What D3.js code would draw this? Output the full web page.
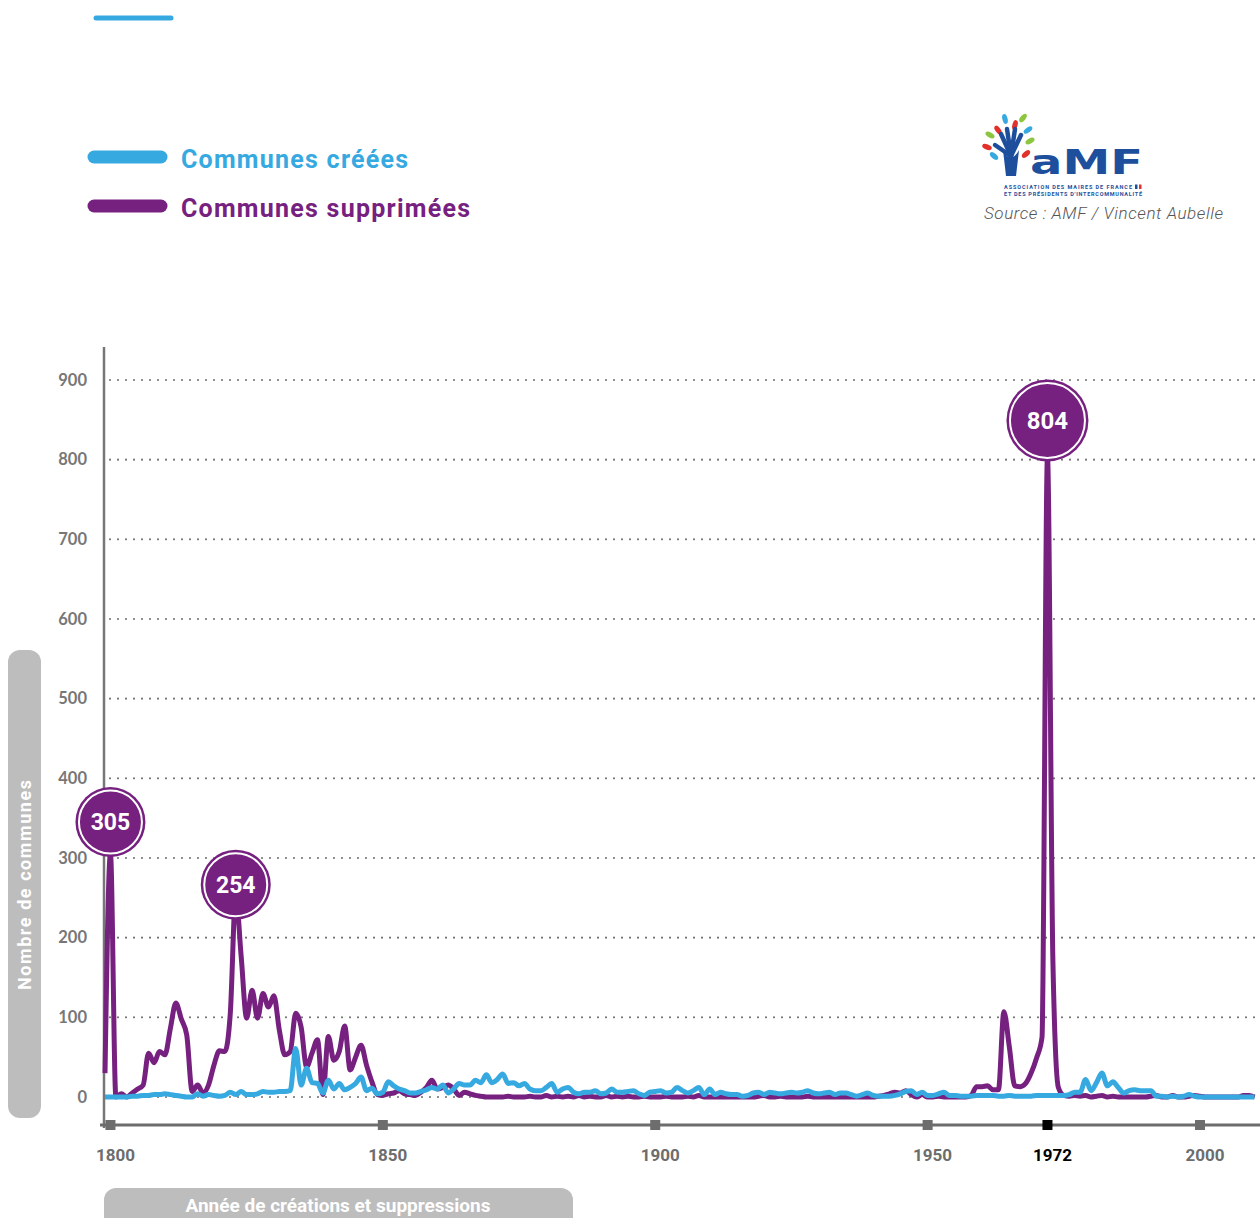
<!DOCTYPE html>
<html>
<head>
<meta charset="utf-8">
<script src="https://cdn.jsdelivr.net/npm/d3@7"></script>
<style>
  body { margin: 0; background: #fff; }
  svg { display: block; font-family: Roboto, "Noto Sans", sans-serif; }
</style>
</head>
<body>
<svg id="chart" width="1260" height="1218"></svg>
<script>
// yearly series, 1799 -> 2010
const firstYear = 1799;

const suppressed = [
  30, 305, 0, 4, 0, 5, 10, 15, 55, 43,        // 1799-1808
  57, 53, 86, 118, 98, 78, 7, 15, 5, 15,      // 1809-1818
  40, 58, 57, 105, 254, 176, 99, 134, 99, 130, // 1819-1828
  113, 127, 84, 53, 57, 105, 88, 38, 55, 72,  // 1829-1838
  3, 76, 46, 57, 89, 34, 50, 65, 40, 19,      // 1839-1848
  3, 2, 4, 5, 8, 4, 3, 2, 6, 12,              // 1849-1858
  21, 10, 12, 15, 10, 2, 6, 4, 2, 1,          // 1859-1868
  0, 0, 0, 0, 1, 0, 0, 0, 1, 0,               // 1869-1878
  0, 2, 0, 1, 0, 1, 0, 2, 0, 1,               // 1879-1888
  0, 0, 2, 0, 1, 0, 1, 0, 0, 1,               // 1889-1898
  0, 0, 0, 1, 0, 0, 0, 1, 0, 2,               // 1899-1908
  0, 0, 0, 0, 0, 0, 0, 0, 0, 0,               // 1909-1918
  1, 2, 0, 0, 1, 0, 0, 0, 0, 1,               // 1919-1928
  0, 0, 0, 0, 0, 0, 0, 0, 0, 0,               // 1929-1938
  0, 0, 1, 2, 4, 6, 5, 8, 3, 0,               // 1939-1948
  3, 0, 0, 1, 0, 0, 0, 0, 0, 2,               // 1949-1958
  13, 13, 14, 9, 9, 107, 63, 14, 13, 17,      // 1959-1968
  30, 49, 75, 804, 170, 12, 2, 1, 2, 1,       // 1969-1978
  2, 0, 1, 2, 0, 1, 0, 0, 0, 0,               // 1979-1988
  0, 0, 1, 2, 0, 0, 2, 0, 0, 1,               // 1989-1998
  2, 1, 0, 0, 0, 0, 0, 0, 0, 2,               // 1999-2008
  2, 0                                        // 2009-2010
];

const created = [
  0, 0, 0, 0, 0, 1, 1, 2, 2, 3,               // 1799-1808
  3, 4, 3, 2, 1, 0, 0, 4, 1, 3,               // 1809-1818
  2, 1, 2, 6, 3, 7, 3, 3, 4, 7,               // 1819-1828
  6, 6, 7, 7, 8, 61, 15, 36, 18, 17,          // 1829-1838
  5, 21, 10, 17, 9, 12, 17, 25, 8, 11,        // 1839-1848
  4, 6, 19, 14, 10, 8, 5, 5, 7, 9,            // 1849-1858
  12, 10, 15, 5, 10, 17, 15, 15, 21, 18,      // 1859-1868
  28, 18, 22, 29, 17, 18, 14, 17, 10, 8,      // 1869-1878
  8, 12, 17, 6, 10, 12, 6, 4, 6, 6,           // 1879-1888
  8, 4, 5, 10, 6, 6, 7, 8, 4, 2,              // 1889-1898
  6, 7, 8, 5, 6, 12, 8, 5, 8, 12,             // 1899-1908
  3, 10, 3, 6, 4, 3, 3, 1, 2, 5,              // 1909-1918
  6, 3, 6, 5, 4, 5, 6, 5, 6, 8,               // 1919-1928
  5, 4, 5, 6, 3, 5, 5, 3, 1, 3,               // 1929-1938
  5, 2, 1, 1, 1, 2, 4, 7, 8, 3,               // 1939-1948
  6, 2, 2, 4, 6, 2, 2, 1, 1, 1,               // 1949-1958
  2, 2, 2, 2, 1, 1, 2, 1, 1, 1,               // 1959-1968
  1, 2, 2, 2, 2, 2, 2, 3, 6, 6,               // 1969-1978
  22, 8, 18, 30, 14, 19, 12, 5, 8, 9,         // 1979-1988
  8, 8, 8, 1, 1, 0, 1, 0, 1, 3,               // 1989-1998
  1, 0, 0, 0, 0, 0, 0, 0, 0, 0,               // 1999-2008
  0, 0                                        // 2009-2010
];

const yTicks = [0, 100, 200, 300, 400, 500, 600, 700, 800, 900];
const xTicks = [1800, 1850, 1900, 1950, 1972, 2000];
const highlightYear = 1972;

const peaks = [
  { year: 1800, value: 305 },
  { year: 1823, value: 254 },
  { year: 1972, value: 804 }
];
// badge radius and how far it sits above the peak (px)
const badgeStyle = { 305: { r: 35, lift: 32 }, 254: { r: 35, lift: 10 }, 804: { r: 41, lift: 36 } };

const seriesNames = ["Communes créées", "Communes supprimées"];

const BLUE = "#36a9e1";
const PURPLE = "#76217f";
const GREY = "#777";
const AXIS = "#6d6d6d";

const svg = d3.select("#chart");

const x = d3.scaleLinear().domain([firstYear, 2000]).range([105, 1200]);
const y = d3.scaleLinear().domain([0, 900]).range([1097, 380]);

const toPoints = arr => arr.map((v, i) => ({ year: firstYear + i, value: v }));

// dotted grid
svg.append("g")
  .selectAll("line")
  .data(yTicks)
  .join("line")
  .attr("x1", 110).attr("x2", 1260)
  .attr("y1", d => y(d)).attr("y2", d => y(d))
  .attr("stroke", GREY)
  .attr("stroke-width", 2.2)
  .attr("stroke-linecap", "round")
  .attr("stroke-dasharray", "0,8");

// y labels
svg.append("g")
  .selectAll("text")
  .data(yTicks)
  .join("text")
  .attr("x", 87)
  .attr("y", d => y(d))
  .attr("dy", "0.35em")
  .attr("text-anchor", "end")
  .style("font-family", "Lato, Roboto, sans-serif")
  .style("font-weight", 700)
  .style("font-size", "16.5px")
  .attr("fill", GREY)
  .text(d => d);

// axis lines
svg.append("line")
  .attr("x1", 104).attr("x2", 104)
  .attr("y1", 347).attr("y2", 1128)
  .attr("stroke", GREY).attr("stroke-width", 2.5);

svg.append("line")
  .attr("x1", 100).attr("x2", 1260)
  .attr("y1", 1125).attr("y2", 1125)
  .attr("stroke", AXIS).attr("stroke-width", 3);

// tick squares + labels
const xt = svg.append("g");
xt.selectAll("rect")
  .data(xTicks)
  .join("rect")
  .attr("x", d => x(d) - 5)
  .attr("y", 1120)
  .attr("width", 10).attr("height", 10)
  .attr("fill", d => d === highlightYear ? "#000" : AXIS);

xt.selectAll("text")
  .data(xTicks)
  .join("text")
  .attr("x", d => x(d) + 5)
  .attr("y", 1161)
  .attr("text-anchor", "middle")
  .style("font-weight", 700)
  .style("font-size", "17px")
  .attr("fill", d => d === highlightYear ? "#000" : AXIS)
  .text(d => d);

// lines
const line = d3.line()
  .x(d => x(d.year))
  .y(d => y(d.value))
  .curve(d3.curveMonotoneX);

svg.append("path")
  .datum(toPoints(suppressed))
  .attr("d", line)
  .attr("fill", "none")
  .attr("stroke", PURPLE)
  .attr("stroke-width", 5)
  .attr("stroke-linejoin", "round");

svg.append("path")
  .datum(toPoints(created))
  .attr("d", line)
  .attr("fill", "none")
  .attr("stroke", BLUE)
  .attr("stroke-width", 5)
  .attr("stroke-linejoin", "round");

// peak badges
const badges = svg.append("g")
  .selectAll("g")
  .data(peaks)
  .join("g")
  .attr("transform", d => `translate(${x(d.year)},${y(d.value) - badgeStyle[d.value].lift})`);

badges.append("circle")
  .attr("r", d => badgeStyle[d.value].r)
  .attr("fill", PURPLE);
badges.append("circle")
  .attr("r", d => badgeStyle[d.value].r - 3.5)
  .attr("fill", "none")
  .attr("stroke", "#fff")
  .attr("stroke-width", 2);
badges.append("text")
  .attr("text-anchor", "middle")
  .attr("dy", "0.36em")
  .attr("fill", "#fff")
  .style("font-weight", 700)
  .style("font-size", d => d.value === 804 ? "24px" : "23px")
  .text(d => d.value);

// axis title boxes
svg.append("rect")
  .attr("x", 8).attr("y", 650)
  .attr("width", 33).attr("height", 468)
  .attr("rx", 12)
  .attr("fill", "#bdbdbd");
svg.append("text")
  .attr("transform", "translate(31,885) rotate(-90)")
  .attr("text-anchor", "middle")
  .attr("fill", "#fff")
  .style("font-weight", 700)
  .style("font-size", "18px")
  .attr("textLength", 210)
  .text("Nombre de communes");

svg.append("rect")
  .attr("x", 104).attr("y", 1188)
  .attr("width", 469).attr("height", 50)
  .attr("rx", 12)
  .attr("fill", "#bdbdbd");
svg.append("text")
  .attr("x", 338).attr("y", 1212)
  .attr("text-anchor", "middle")
  .attr("fill", "#fff")
  .style("font-weight", 700)
  .style("font-size", "19px")
  .text("Année de créations et suppressions");

// legend
svg.append("line")
  .attr("x1", 96).attr("x2", 171)
  .attr("y1", 18).attr("y2", 18)
  .attr("stroke", BLUE).attr("stroke-width", 5).attr("stroke-linecap", "round");

const legend = svg.append("g")
  .selectAll("g")
  .data(seriesNames)
  .join("g")
  .attr("transform", (d, i) => `translate(0,${157 + i * 49})`);

legend.append("line")
  .attr("x1", 94).attr("x2", 161)
  .attr("stroke", (d, i) => i === 0 ? BLUE : PURPLE)
  .attr("stroke-width", 13)
  .attr("stroke-linecap", "round");
legend.append("text")
  .attr("x", 181)
  .attr("y", 11)
  .attr("fill", (d, i) => i === 0 ? BLUE : PURPLE)
  .style("font-weight", 700)
  .style("font-size", "25px")
  .style("letter-spacing", "1.25px")
  .text(d => d);

// AMF logo
const logo = svg.append("g");
const DARK = "#1d4f9c";
const leaves = [
  [1005, 119, BLUE], [1023, 118, "#8cc63f"], [998, 130, "#e2312b"], [1015, 125, "#e2312b"],
  [1028, 130, BLUE], [990, 135, "#8cc63f"], [987, 147, "#e2312b"], [1030, 141, "#8cc63f"],
  [1026, 154, "#e2312b"], [994, 156, BLUE]
];
logo.selectAll("ellipse")
  .data(leaves)
  .join("ellipse")
  .attr("cx", d => d[0]).attr("cy", d => d[1])
  .attr("rx", 2.6).attr("ry", 5)
  .attr("transform", d => `rotate(${(d[0] - 1010) * 3},${d[0]},${d[1]})`)
  .attr("fill", d => d[2]);
const fingers = [[1001, 134], [1007, 129], [1015, 129], [1021, 135], [995, 145]];
logo.selectAll("line.finger")
  .data(fingers)
  .join("line")
  .attr("x1", 1011).attr("y1", 156)
  .attr("x2", d => d[0]).attr("y2", d => d[1])
  .attr("stroke", DARK).attr("stroke-width", 4.5).attr("stroke-linecap", "round");
logo.append("path")
  .attr("d", "M1003,150 Q1011,165 1019,150 L1016,176 L1006,176 Z")
  .attr("fill", DARK);
logo.append("text")
  .attr("x", 1030).attr("y", 174)
  .attr("fill", DARK)
  .style("font-family", "'DejaVu Sans', sans-serif")
  .style("font-weight", 700)
  .style("font-size", "34px")
  .attr("textLength", 113)
  .attr("lengthAdjust", "spacingAndGlyphs")
  .text("aMF");
logo.append("text")
  .attr("x", 1004).attr("y", 189)
  .attr("fill", DARK)
  .style("font-weight", 700)
  .style("font-size", "5.5px")
  .attr("textLength", 128)
  .text("ASSOCIATION DES MAIRES DE FRANCE");
logo.append("rect").attr("x", 1135).attr("y", 184.5).attr("width", 2.5).attr("height", 4.5).attr("fill", DARK);
logo.append("rect").attr("x", 1139).attr("y", 184.5).attr("width", 2.5).attr("height", 4.5).attr("fill", "#e2312b");
logo.append("text")
  .attr("x", 1004).attr("y", 195.5)
  .attr("fill", DARK)
  .style("font-weight", 700)
  .style("font-size", "5.5px")
  .attr("textLength", 138)
  .text("ET DES PRÉSIDENTS D'INTERCOMMUNALITÉ");

svg.append("text")
  .attr("x", 984).attr("y", 219)
  .attr("fill", "#555")
  .style("font-style", "italic")
  .style("font-weight", 300)
  .style("font-size", "17px")
  .attr("textLength", 239)
  .text("Source : AMF / Vincent Aubelle");
</script>
</body>
</html>
